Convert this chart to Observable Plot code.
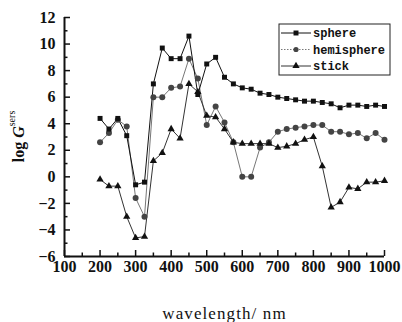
<!DOCTYPE html>
<html>
<head>
<meta charset="utf-8">
<script src="https://cdn.jsdelivr.net/npm/d3@7"></script>
<script src="https://cdn.jsdelivr.net/npm/@observablehq/plot@0.6"></script>
<style>
  html, body { margin: 0; padding: 0; background: white; }
  #chart { width: 402px; height: 322px; overflow: hidden; }
  svg text.ticklab { font-family: "Liberation Serif", "DejaVu Serif", serif !important; font-weight: 700 !important; }
</style>
</head>
<body>
<div id="chart"></div>
<script>
const wavelength = [200,225,250,275,300,325,350,375,400,425,450,475,500,525,550,575,600,625,650,675,700,725,750,775,800,825,850,875,900,925,950,975,1000];
const sphere = [4.4,3.6,4.4,3.1,-0.6,-0.4,7.0,9.7,8.9,8.9,10.6,6.2,8.5,9.0,7.5,7.0,6.7,6.6,6.3,6.2,6.0,5.9,5.8,5.7,5.7,5.6,5.5,5.2,5.4,5.4,5.3,5.4,5.3];
const hemisphere = [2.6,3.3,4.3,3.8,-1.6,-3.0,6.0,6.0,6.7,6.8,8.9,7.4,3.9,5.3,4.1,2.6,0.0,0.0,2.2,2.6,3.4,3.6,3.7,3.8,3.9,3.9,3.4,3.4,3.2,3.3,2.9,3.3,2.8];
const stick = [-0.2,-0.7,-0.7,-3.0,-4.6,-4.5,1.2,1.8,3.6,2.9,7.0,6.4,4.6,4.5,3.6,2.6,2.5,2.5,2.5,2.5,2.2,2.3,2.5,2.8,3.0,0.8,-2.3,-1.9,-0.8,-0.9,-0.4,-0.4,-0.3];
const xTicks = [100,200,300,400,500,600,700,800,900,1000];
const xMinor = [150,250,350,450,550,650,750,850,950];
const yTicks = [-6,-4,-2,0,2,4,6,8,10,12];
const yMinor = [-5,-3,-1,1,3,5,7,9,11];
const seriesNames = ["sphere","hemisphere","stick"];

const W = 402, H = 322, mL = 64, mR = 18, mT = 17, mB = 66;
const fw = W - mL - mR, fh = H - mT - mB;
const axisColor = "#111";
const serif = "Liberation Serif, DejaVu Serif, serif";

const plot = Plot.plot({
  width: W, height: H,
  marginLeft: mL, marginRight: mR, marginTop: mT, marginBottom: mB,
  x: {domain: [100, 1000]},
  y: {domain: [-6, 12]},
  style: {background: "white", fontFamily: serif, color: "#111"},
  marks: [
    Plot.axisX({ticks: xTicks, tickSize: 0, tickPadding: 4, fontSize: 16, fontFamily: serif, fontWeight: "bold", label: null, tickFormat: d => String(d)}),
    Plot.axisY({ticks: yTicks, tickSize: 0, tickPadding: 9, fontSize: 16, fontFamily: serif, fontWeight: "bold", label: null}),
    Plot.tickX(xTicks, {x: d => d, insetTop: fh - 6, stroke: axisColor, strokeWidth: 1.5}),
    Plot.tickX(xMinor, {x: d => d, insetTop: fh - 3.5, stroke: axisColor, strokeWidth: 1.5}),
    Plot.tickY(yTicks, {y: d => d, insetRight: fw - 6, stroke: axisColor, strokeWidth: 1.5}),
    Plot.tickY(yMinor, {y: d => d, insetRight: fw - 3.5, stroke: axisColor, strokeWidth: 1.5}),
    Plot.ruleX([100], {stroke: axisColor, strokeWidth: 2}),
    Plot.ruleY([-6], {stroke: axisColor, strokeWidth: 2}),
    Plot.line(wavelength, {x: wavelength, y: hemisphere, stroke: "#777", strokeWidth: 1}),
    Plot.line(wavelength, {x: wavelength, y: stick, stroke: "#333", strokeWidth: 1}),
    Plot.line(wavelength, {x: wavelength, y: sphere, stroke: "#111", strokeWidth: 1}),
    Plot.dot(wavelength, {x: wavelength, y: hemisphere, symbol: "circle", r: 3, fill: "#444", stroke: "none"}),
    Plot.dot(wavelength, {x: wavelength, y: stick, symbol: "triangle", r: 2.7, fill: "#111", stroke: "none"}),
    Plot.dot(wavelength, {x: wavelength, y: sphere, symbol: "square", r: 2.8, fill: "#111", stroke: "none"}),
    Plot.text(["wavelength/ nm"], {frameAnchor: "bottom", dy: 57, fontSize: 17, fill: "#111", textAnchor: "middle", lineAnchor: "middle"})
  ]
});
document.getElementById("chart").appendChild(plot);

const svg = d3.select(plot);
const tickTexts = new Set([...xTicks, ...yTicks].map(d => String(d)).concat(yTicks.map(d => d < 0 ? "\u2212" + Math.abs(d) : String(d))));
svg.selectAll("text").each(function() {
  if (tickTexts.has(this.textContent.trim())) {
    this.classList.add("ticklab");
    this.setAttribute("font-family", serif);
    this.setAttribute("font-weight", "bold");
    this.style.fontFamily = serif;
    this.style.fontWeight = "700";
  }
});
// letter spacing on x label
svg.selectAll("text").filter(function() { return this.textContent === "wavelength/ nm"; })
  .attr("letter-spacing", "1.1px").style("font-weight", "normal");

// y-axis label
const yl = svg.append("text")
  .attr("transform", `translate(20,${(mT + H - mB) / 2}) rotate(-90)`)
  .attr("text-anchor", "middle")
  .attr("dominant-baseline", "middle")
  .attr("font-family", serif)
  .attr("fill", "#111");
yl.append("tspan").attr("font-size", 16).attr("font-weight", "bold").text("log ");
yl.append("tspan").attr("font-size", 16).attr("font-style", "italic").attr("font-weight", "bold").text("G");
yl.append("tspan").attr("font-size", 10).attr("dy", -7).text("sers");

// legend
const lg = svg.append("g").attr("transform", "translate(279,24)");
lg.append("rect").attr("width", 111).attr("height", 51).attr("fill", "white").attr("stroke", "#222").attr("stroke-width", 1);
const styles = [
  {line: "#111", dash: null, sym: d3.symbolSquare, size: 2.8*2.8*Math.PI, fill: "#111"},
  {line: "#777", dash: "1.5,1.5", sym: d3.symbolCircle, size: 2.6*2.6*Math.PI, fill: "#444"},
  {line: "#333", dash: null, sym: d3.symbolTriangle, size: 2.7*2.7*Math.PI, fill: "#111"}
];
seriesNames.forEach((name, i) => {
  const y = 9 + i * 16.5;
  const s = styles[i];
  lg.append("line").attr("x1", 2).attr("x2", 32).attr("y1", y).attr("y2", y)
    .attr("stroke", s.line).attr("stroke-width", 1).attr("stroke-dasharray", s.dash);
  lg.append("path").attr("d", d3.symbol(s.sym, s.size)()).attr("transform", `translate(17,${y})`).attr("fill", s.fill);
  lg.append("text").attr("x", 34).attr("y", y).attr("dy", "0.35em")
    .attr("text-anchor", "start")
    .attr("font-family", "Liberation Mono, DejaVu Sans Mono, monospace").attr("font-weight", "bold").attr("font-size", 12)
    .attr("fill", "#111").text(name);
});
</script>
</body>
</html>
